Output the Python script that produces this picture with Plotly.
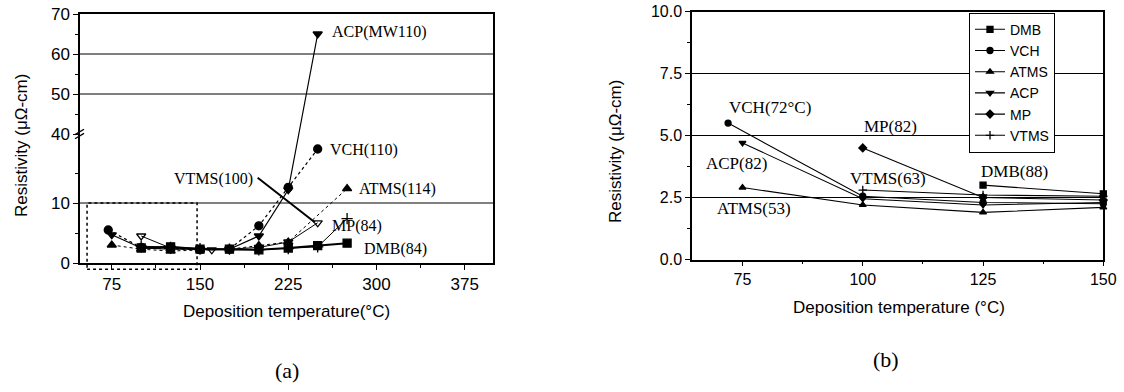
import plotly.graph_objects as go

# ---------------- Panel (a) data : deposition temperature vs resistivity ----------------
a_dmb_x = [100, 125, 150, 175, 200, 225, 250, 275]
a_dmb_y = [2.5, 2.7, 2.3, 2.3, 2.2, 2.5, 2.9, 3.3]
a_vch_x = [72, 100, 125, 150, 175, 200, 225, 250]
a_vch_y = [5.5, 2.6, 2.4, 2.2, 2.3, 6.2, 12.6, 19.0]
a_atms_x = [75, 100, 125, 150, 175, 200, 225, 275]
a_atms_y = [3.0, 2.3, 2.0, 2.2, 2.3, 2.9, 3.5, 12.4]
a_acp_x = [75, 100, 125, 150, 175, 200, 225, 250]
a_acp_y = [4.7, 2.5, 2.3, 2.3, 2.3, 4.5, 12.2, 65.0]
a_mp_x = [100, 125, 150, 160, 175, 200, 225, 250]
a_mp_y = [4.5, 2.5, 2.3, 2.2, 2.3, 2.6, 3.5, 6.7]
a_vtms_x = [100, 125, 150, 175, 200, 225, 250, 275]
a_vtms_y = [2.8, 2.6, 2.4, 2.3, 2.2, 2.4, 2.7, 7.4]

a_xticks = [75, 150, 225, 300, 375]
a_xminor = [112.5, 187.5, 262.5, 337.5]
a_yticks = [0, 10, 40, 50, 60, 70]
a_yminor = [5, 15, 45, 55, 65]
a_ygrid = [10, 50, 60]

# ---------------- Panel (b) data ----------------
b_dmb_x = [125, 150]
b_dmb_y = [3.0, 2.65]
b_vch_x = [72, 100, 125, 150]
b_vch_y = [5.5, 2.55, 2.3, 2.25]
b_atms_x = [75, 100, 125, 150]
b_atms_y = [2.9, 2.2, 1.9, 2.1]
b_acp_x = [75, 100, 125, 150]
b_acp_y = [4.7, 2.45, 2.2, 2.3]
b_mp_x = [100, 125, 150]
b_mp_y = [4.5, 2.5, 2.4]
b_vtms_x = [100, 125, 150]
b_vtms_y = [2.8, 2.6, 2.55]

b_xticks = [75, 100, 125, 150]
b_xminor = [87.5, 112.5, 137.5]
b_yticks = [0, 2.5, 5.0, 7.5, 10.0]
b_yminor = [1.25, 3.75, 6.25, 8.75]

# ---------------- broken-axis transform for panel (a) ----------------
BREAK_LO = 21.5      # display value where the lower segment ends
UP_START = 40.0      # first value of the upper segment
UP_SCALE = 4.0 / 6.0 # compression of the upper segment


def disp(v):
    return v if v < UP_START else BREAK_LO + (v - UP_START) * UP_SCALE


def disp_list(vals):
    return [disp(v) for v in vals]


A_XR = [48, 399]
A_YR = [0, disp(70)]
A_XD = [80 / 1124, 493 / 1124]
A_YD = [1 - 263 / 392, 1 - 14 / 392]
B_XR = [64.5, 150]
B_YR = [0, 10]
B_XD = [692 / 1124, 1103.3 / 1124]
B_YD = [1 - 259.5 / 392, 1 - 11.5 / 392]


def to_paper(v, rng, dom):
    return dom[0] + (v - rng[0]) / (rng[1] - rng[0]) * (dom[1] - dom[0])


SANS = "Liberation Sans, Arial, sans-serif"
SERIF = "Liberation Serif, Times New Roman, serif"
BLACK = "black"

fig = go.Figure()


def add_a(x, y, symbol, dash, width, size=8):
    fig.add_trace(go.Scatter(
        x=x, y=disp_list(y), xaxis="x", yaxis="y", mode="lines+markers",
        line=dict(color=BLACK, width=width, dash=dash),
        marker=dict(symbol=symbol, size=size, color=BLACK,
                    line=dict(color=BLACK, width=1.3)),
        showlegend=False, cliponaxis=False))


add_a(a_atms_x, a_atms_y, "triangle-up", "dot", 1.0)
add_a(a_vch_x, a_vch_y, "circle", "dot", 1.2)
add_a(a_mp_x, a_mp_y, "triangle-down-open", "solid", 1.0)
add_a(a_vtms_x, a_vtms_y, "cross-thin", "solid", 1.0)
add_a(a_acp_x, a_acp_y, "triangle-down", "solid", 1.2)
add_a(a_dmb_x, a_dmb_y, "square", "solid", 2.0)


def add_b(name, x, y, symbol):
    fig.add_trace(go.Scatter(
        x=x, y=y, xaxis="x2", yaxis="y2", mode="lines+markers", name=name,
        line=dict(color=BLACK, width=1.1),
        marker=dict(symbol=symbol, size=6, color=BLACK,
                    line=dict(color=BLACK, width=1.3)),
        cliponaxis=False))


add_b("DMB", b_dmb_x, b_dmb_y, "square")
add_b("VCH", b_vch_x, b_vch_y, "circle")
add_b("ATMS", b_atms_x, b_atms_y, "triangle-up")
add_b("ACP", b_acp_x, b_acp_y, "triangle-down")
add_b("MP", b_mp_x, b_mp_y, "diamond")
add_b("VTMS", b_vtms_x, b_vtms_y, "cross-thin")

axis_common = dict(showline=True, linecolor=BLACK, linewidth=1.5, mirror=True,
                   ticks="outside", ticklen=5, tickwidth=1.3, tickcolor=BLACK,
                   zeroline=False, tickmode="array", automargin=False)

fig.update_layout(
    template="none",
    width=1124, height=392, autosize=False,
    margin=dict(l=0, r=0, t=0, b=0, pad=0, autoexpand=False),
    paper_bgcolor="white", plot_bgcolor="white",
    xaxis=dict(domain=A_XD, range=A_XR, anchor="y", tickvals=a_xticks,
               ticktext=[str(v) for v in a_xticks], showgrid=False,
               tickfont=dict(family=SANS, size=17, color=BLACK),
               minor=dict(tickvals=a_xminor, ticks="outside", ticklen=3,
                          tickcolor=BLACK, showgrid=False),
               **axis_common),
    yaxis=dict(domain=A_YD, range=A_YR, anchor="x", tickvals=disp_list(a_yticks),
               ticktext=[str(v) for v in a_yticks], showgrid=False,
               tickfont=dict(family=SANS, size=17, color=BLACK),
               minor=dict(tickvals=disp_list(a_yminor), ticks="outside", ticklen=3,
                          tickcolor=BLACK, showgrid=False),
               **axis_common),
    xaxis2=dict(domain=B_XD, range=B_XR, anchor="y2", tickvals=b_xticks,
                ticktext=[str(v) for v in b_xticks], showgrid=False,
                tickfont=dict(family=SANS, size=16, color=BLACK),
                minor=dict(tickvals=b_xminor, ticks="outside", ticklen=3,
                           tickcolor=BLACK, showgrid=False),
                **axis_common),
    yaxis2=dict(domain=B_YD, range=B_YR, anchor="x2", tickvals=b_yticks,
                ticktext=["%.1f" % v for v in b_yticks], showgrid=True,
                gridcolor=BLACK, gridwidth=1,
                tickfont=dict(family=SANS, size=16, color=BLACK),
                minor=dict(tickvals=b_yminor, ticks="outside", ticklen=3,
                           tickcolor=BLACK, showgrid=False),
                **axis_common),
    legend=dict(x=969 / 1124, y=1 - 12.7 / 392, xanchor="left", yanchor="top",
                bgcolor="white", bordercolor=BLACK, borderwidth=1,
                font=dict(family=SANS, size=14, color=BLACK),
                tracegroupgap=0),
)

shapes = []
# horizontal gridlines in panel (a)
for g in a_ygrid:
    shapes.append(dict(type="line", xref="x domain", yref="y", x0=0, x1=1,
                       y0=disp(g), y1=disp(g), line=dict(color=BLACK, width=1), layer="below"))
# dotted zoom-region rectangle (50-150 degC, 0-10)
shapes.append(dict(type="rect", xref="paper", yref="paper",
                   x0=to_paper(54, A_XR, A_XD), x1=to_paper(147.5, A_XR, A_XD),
                   y0=to_paper(-1.05, A_YR, A_YD), y1=to_paper(10, A_YR, A_YD),
                   line=dict(color=BLACK, width=1.5, dash="dot")))
# axis-break marks at 40
for c in (-0.35, 0.35):
    yb = disp(40) + c
    shapes.append(dict(type="line", xref="paper", yref="paper",
                       x0=A_XD[0] - 5 / 1124, x1=A_XD[0] + 4 / 1124,
                       y0=to_paper(yb - 0.45, A_YR, A_YD), y1=to_paper(yb + 0.45, A_YR, A_YD),
                       line=dict(color=BLACK, width=1.3)))
# leader line for VTMS(100)
shapes.append(dict(type="line", xref="x", yref="y", x0=199, y0=14.2, x1=247.5, y1=6.8,
                   line=dict(color=BLACK, width=2)))
fig.update_layout(shapes=shapes)

ann = []


def lab(text, x, y, xr, yr, size):
    ann.append(dict(text=text, x=x, y=y, xref=xr, yref=yr, xanchor="left",
                    yanchor="middle", showarrow=False,
                    font=dict(family=SERIF, size=size, color=BLACK)))


# panel (a) series labels
lab("ACP(MW110)", 260.3, 38.5, "x", "y", 16)
lab("VCH(110)", 258.6, 18.8, "x", "y", 16)
lab("VTMS(100)", 126, 14.0, "x", "y", 16)
lab("ATMS(114)", 283.2, 12.3, "x", "y", 16)
lab("MP(84)", 260.3, 6.2, "x", "y", 16)
lab("DMB(84)", 287.5, 2.3, "x", "y", 16)
# panel (b) series labels
lab("VCH(72°C)", 71.7, 6.11, "x2", "y2", 17)
lab("ACP(82)", 66.9, 3.88, "x2", "y2", 17)
lab("ATMS(53)", 69.2, 2.06, "x2", "y2", 17)
lab("MP(82)", 99.8, 5.35, "x2", "y2", 17)
lab("VTMS(63)", 97.0, 3.27, "x2", "y2", 17)
lab("DMB(88)", 124.1, 3.54, "x2", "y2", 17)


def title(text, xpx, ypx, size, family, angle=0):
    ann.append(dict(text=text, x=xpx / 1124, y=1 - ypx / 392, xref="paper", yref="paper",
                    xanchor="center", yanchor="middle", textangle=angle, showarrow=False,
                    font=dict(family=family, size=size, color=BLACK)))


title("Deposition temperature(°C)", 286, 311, 17, SANS)
title("Deposition temperature (°C)", 899, 307, 17, SANS)
title("Resistivity (μΩ-cm)", 21, 146, 17, SANS, -90)
title("Resistivity (μΩ-cm)", 615, 152, 17, SANS, -90)
title("(a)", 287, 370, 22, SERIF)
title("(b)", 886, 359, 22, SERIF)
fig.update_layout(annotations=ann)

fig.write_html("out.html")
